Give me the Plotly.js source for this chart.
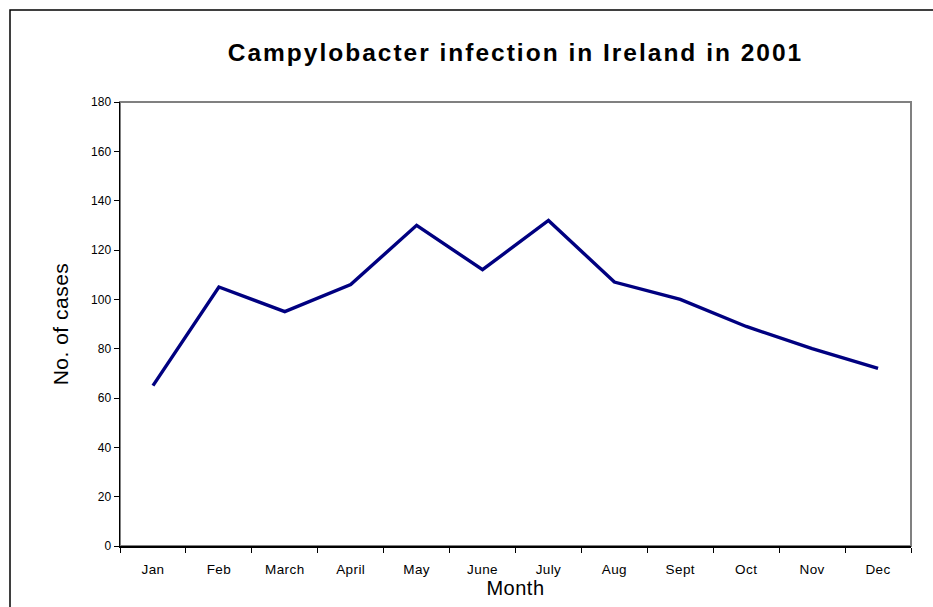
<!DOCTYPE html>
<html>
<head>
<meta charset="utf-8">
<script src="https://cdn.plot.ly/plotly-3.0.1.min.js"></script>
<style>
html,body{margin:0;padding:0;background:#fff;}
#chart{width:933px;height:607px;}
#chart .gtitle{letter-spacing:2px;}
#chart .xtick text{letter-spacing:0.4px;}
#chart .xtitle, #chart .ytitle{letter-spacing:0.5px;}
</style>
</head>
<body>
<div id="chart"></div>
<script>
const months = ["Jan","Feb","March","April","May","June","July","Aug","Sept","Oct","Nov","Dec"];
const cases = [65, 105, 95, 106, 130, 112, 132, 107, 100, 89, 80, 72];
const yTicks = [0,20,40,60,80,100,120,140,160,180];

const W = 933, H = 607;
const m = {l:120, r:22, t:102, b:61};
const pw = W - m.l - m.r, ph = H - m.t - m.b;
function px2paperX(px){ return (px - m.l)/pw; }
function px2paperY(py){ return (H - m.b - py)/ph; }

const trace = {
  x: months, y: cases, type: 'scatter', mode: 'lines',
  line: {color: '#000080', width: 3.4},
  hoverinfo: 'skip'
};

const font = 'Arial, "Liberation Sans", sans-serif';
const layout = {
  width: W, height: H,
  margin: m,
  paper_bgcolor: '#ffffff', plot_bgcolor: '#ffffff',
  showlegend: false,
  font: {family: font, color: '#000', size: 12},
  title: {
    text: '<b>Campylobacter infection in Ireland in 2001</b>',
    font: {family: font, size: 24.5, color: '#000'},
    x: 0.5525, xanchor: 'center', y: 1 - 52/H, yanchor: 'middle'
  },
  xaxis: {
    type: 'category', range: [-0.5, 11.5],
    tickson: 'boundaries', ticks: 'outside', ticklen: 5, tickcolor: '#000', tickwidth: 1,
    showline: true, linecolor: '#000', linewidth: 1.5,
    showgrid: false, zeroline: false,
    ticklabelstandoff: 10,
    tickfont: {family: font, size: 13.5, color: '#000'},
    title: {text: 'Month', font: {family: font, size: 20, color: '#000'}, standoff: 2}
  },
  yaxis: {
    range: [0, 180], tickvals: yTicks, ticktext: yTicks.map(String),
    ticks: 'outside', ticklen: 5, tickcolor: '#000', tickwidth: 1,
    showline: true, linecolor: '#000', linewidth: 1.5,
    showgrid: false, zeroline: false,
    tickfont: {family: font, size: 12, color: '#000'},
    title: {text: 'No. of cases', font: {family: font, size: 21, color: '#000'}, standoff: 16}
  },
  shapes: [
    {type:'rect', xref:'paper', yref:'paper', x0:0, x1:1, y0:0, y1:1,
     line:{color:'#808080', width:2}, layer:'below'},
    {type:'rect', xref:'paper', yref:'paper',
     x0: px2paperX(10), x1: px2paperX(945), y0: px2paperY(620), y1: px2paperY(10),
     line:{color:'#000', width:1.5}, layer:'below'}
  ]
};

Plotly.newPlot('chart', [trace], layout, {staticPlot: true, displayModeBar: false});
</script>
</body>
</html>
